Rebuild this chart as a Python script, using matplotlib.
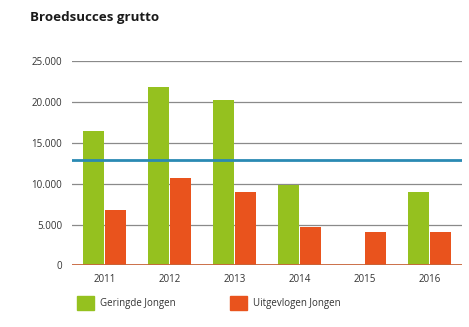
import numpy as np
import matplotlib
matplotlib.use('Agg')
import matplotlib.pyplot as plt
from matplotlib.patches import Patch
from matplotlib.ticker import FuncFormatter

# data
years = ['2011', '2012', '2013', '2014', '2015', '2016']
geringd = [16500, 21900, 20300, 9850, 0, 9000]
uitgevlogen = [6800, 10700, 9000, 4750, 4100, 4100]
doel = 12900

green = '#95c11f'
orange = '#e9531d'
blue = '#2a8ab3'

plt.rcParams['font.family'] = ['Open Sans', 'DejaVu Sans']

fig = plt.figure(figsize=(4.69, 3.27), dpi=100)
ax = fig.add_axes([72 / 469, 61.7 / 327, 390 / 469, 203.8 / 327])

x = np.arange(len(years))
w = 0.32
ax.bar(x - w / 2 - 0.015, geringd, w, color=green, zorder=3)
ax.bar(x + w / 2 + 0.015, uitgevlogen, w, color=orange, zorder=3)
ax.axhline(doel, color=blue, lw=2, zorder=4)

ax.set_xlim(-0.5, len(years) - 0.5)
ax.set_ylim(0, 25000)
ax.set_yticks(np.arange(0, 25001, 5000))
ax.yaxis.set_major_formatter(FuncFormatter(lambda v, p: '0' if v == 0 else f'{int(v):,}'.replace(',', '.')))
ax.set_xticks(x)
ax.set_xticklabels(years)
ax.tick_params(length=0, labelsize=7, colors='#333333')
ax.tick_params(axis='y', pad=7)
ax.tick_params(axis='x', pad=6)
ax.grid(axis='y', color='#8a8a8a', lw=0.9, zorder=0)
for s in ax.spines.values():
    s.set_visible(False)
ax.axhline(0, color='#c8643a', lw=2, zorder=5)

fig.text(30 / 469, 1 - 18 / 327, 'Broedsucces grutto', fontsize=9.6, fontweight='bold',
         va='center', ha='left', color='#1a1a1a')

handles = [Patch(color=green, label='Geringde Jongen'),
           Patch(color=orange, label='Uitgevlogen Jongen')]
fig.legend(handles=handles, loc='center left', bbox_to_anchor=(68 / 469, 1 - 303 / 327),
           ncol=2, frameon=False, fontsize=7, handlelength=1.75, handleheight=1.75,
           handletextpad=0.6, columnspacing=5.6, labelcolor='#333333')

fig.savefig('out.png', dpi=100)
